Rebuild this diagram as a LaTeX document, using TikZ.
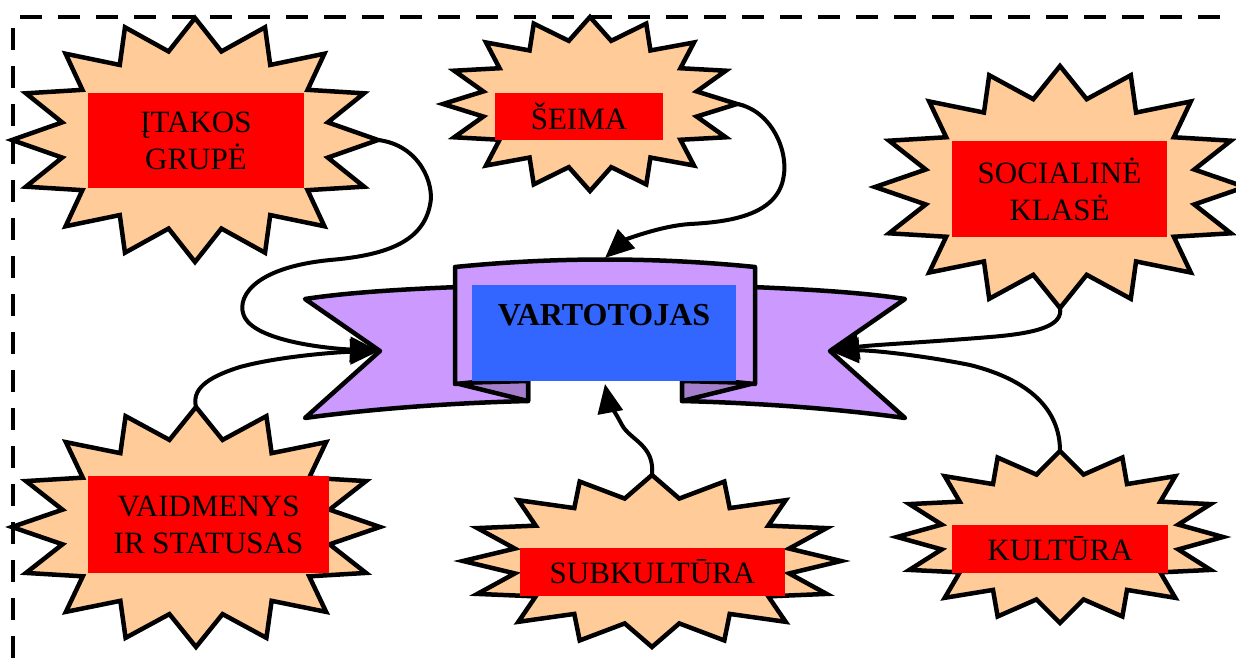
\documentclass[tikz,border=0pt]{standalone}
\usepackage{fontspec}
\setmainfont{Liberation Serif}
\usetikzlibrary{arrows.meta}
\definecolor{burstfill}{HTML}{FFCC99}
\definecolor{tagred}{HTML}{FF0000}
\definecolor{ribbonfill}{HTML}{CC99FF}
\definecolor{foldfill}{HTML}{A67FCC}
\definecolor{corefill}{HTML}{3366FF}

% 16-point starburst: #1 name, #2 cx, #3 cy, #4 rx, #5 ry
\newcommand\burst[5]{%
  \coordinate (#1) at (#2,#3);
  \coordinate (#1-n) at (#2,{#3-#5});
  \coordinate (#1-s) at (#2,{#3+#5});
  \coordinate (#1-e) at ({#2+#4},#3);
  \pgfmathsetmacro\burstirx{0.74*#4}%
  \pgfmathsetmacro\burstiry{0.74*#5}%
  \begin{scope}[shift={(#2,#3)}]
    \filldraw[burstline] (0,{-#5})
      \foreach \k in {0,...,15}{
        -- ({\burstirx*cos(101.25+22.5*\k)},{-\burstiry*sin(101.25+22.5*\k)})
        -- ({#4*cos(112.5+22.5*\k)},{-#5*sin(112.5+22.5*\k)})} -- cycle;
  \end{scope}
}

\begin{document}
\begin{tikzpicture}[x=1pt,y=-1pt,
  burstline/.style={fill=burstfill,draw=black,line width=4.5pt,line join=miter},
  tag/.style={fill=tagred,draw=none,inner sep=0pt,align=center,
    font=\fontsize{31}{37}\selectfont},
  ribbon/.style={fill=ribbonfill,draw=black,line width=4.5pt,line join=round},
  fold/.style={fill=foldfill,draw=black,line width=4.5pt,line join=round},
  frame/.style={draw=black,line width=4pt,dash pattern=on 22pt off 16pt},
  conn/.style={draw=black,line width=4pt,-{Triangle[length=29pt,width=25pt]}}]
\useasboundingbox (0,0) rectangle (1236,668);
\clip (0,0) rectangle (1236,668);

% dashed frame
\draw[frame] (20,17) -- (1240,17);
\draw[frame] (13,28) -- (13,672);

% starbursts
\burst{itakos}{195}{140}{183}{122}
\burst{seima}{590}{104}{147}{87}
\burst{social}{1060}{187}{185}{121}
\burst{vaid}{196}{527}{184}{120}
\burst{subk}{652}{561}{189}{86}
\burst{kult}{1060}{537}{163}{86}

% labels
\node[tag,minimum width=216pt,minimum height=95pt] (itakos-l) at (196,140.5) {ĮTAKOS\\GRUPĖ};
\node[tag,minimum width=168pt,minimum height=47pt] (seima-l) at (579,116.5) {ŠEIMA};
\node[tag,minimum width=215pt,minimum height=96pt] (social-l) at (1059.5,189) {SOCIALINĖ\\KLASĖ};
\node[tag,minimum width=241pt,minimum height=97pt] (vaid-l) at (208.5,524.5) {VAIDMENYS\\IR STATUSAS};
\node[tag,minimum width=265pt,minimum height=48pt] (subk-l) at (652.5,572) {SUBKULTŪRA};
\node[tag,minimum width=216pt,minimum height=48pt] (kult-l) at (1060,549) {KULTŪRA};

% ribbon: wings, folds, front panel
\filldraw[ribbon] (458,287) .. controls (410,289) and (350,292) .. (305,299)
  -- (380,351) -- (305,418) .. controls (370,409) and (450,403) .. (528,401)
  -- (528,375) -- (458,375) -- cycle;
\filldraw[ribbon] (752,287) .. controls (800,289) and (860,292) .. (905,299)
  -- (830,351) -- (905,418) .. controls (840,409) and (760,403) .. (682,401)
  -- (682,375) -- (752,375) -- cycle;
\filldraw[fold] (455,383) -- (528,401) -- (528,381) -- cycle;
\filldraw[fold] (755,383) -- (682,401) -- (682,381) -- cycle;
\filldraw[ribbon] (455,267) .. controls (555,257) and (655,257) .. (755,267)
  -- (755,384) .. controls (655,374) and (555,374) .. (455,384) -- cycle;
\node[fill=corefill,inner sep=9pt,minimum width=264pt,text height=31pt,text depth=47pt,
  font=\fontsize{32}{38}\selectfont\bfseries] (core) at (604,333) {VARTOTOJAS};

\coordinate (ribL) at (379,351);
\coordinate (ribR) at (830,351);
\coordinate (ribT) at (605,258);
\coordinate (ribB) at (605,384);

% connectors
\draw[conn] (itakos-e) .. controls (420,145) and (435,185) .. (430,205)
  .. controls (423,240) and (390,255) .. (330,260)
  .. controls (250,268) and (235,300) .. (245,318)
  .. controls (258,340) and (320,348) .. (ribL);
\draw[conn] (seima-e) .. controls (770,110) and (790,150) .. (783,180)
  .. controls (775,215) and (730,222) .. (690,224)
  .. controls (660,226) and (625,240) .. (ribT);
\draw[conn] (social-s) .. controls (1063,325) and (1040,333) .. (990,337)
  .. controls (930,342) and (870,345) .. (ribR);
\draw[conn] (kult-n) .. controls (1060,410) and (1030,380) .. (970,365)
  .. controls (920,355) and (870,350) .. (ribR);
\draw[conn] (vaid-n) .. controls (192,390) and (205,378) .. (240,367)
  .. controls (280,356) and (340,352) .. (ribL);
\draw[conn] (subk-n) .. controls (655,445) and (630,440) .. (622,425)
  .. controls (615,412) and (608,400) .. (ribB);
\end{tikzpicture}
\end{document}
